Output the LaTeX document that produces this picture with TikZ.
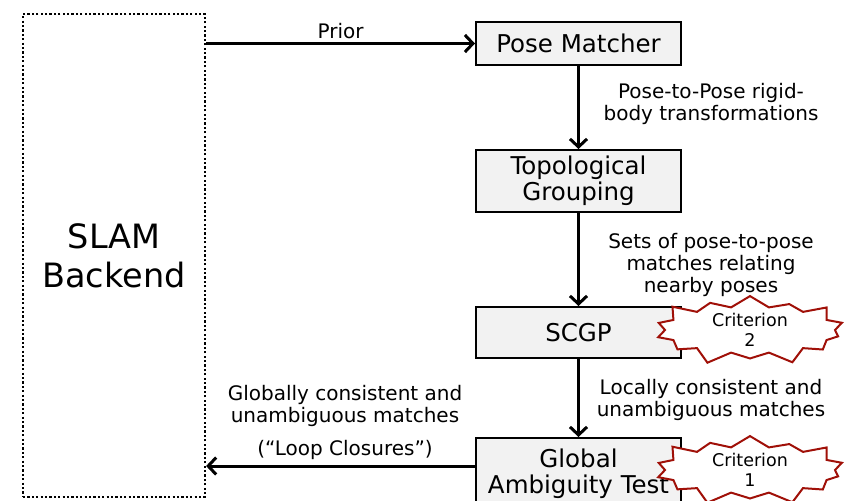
\documentclass[tikz,border=0pt]{standalone}
\usepackage{fontspec}
\setmainfont{DejaVu Sans}
\usetikzlibrary{shapes.symbols,arrows.meta}
\definecolor{starred}{RGB}{160,16,8}
\definecolor{boxgray}{RGB}{242,242,242}

\tikzset{
  stage/.style={draw, line width=2pt, fill=boxgray, minimum width=205pt,
    font=\fontsize{24.5}{26}\selectfont, align=center, inner sep=0pt},
  flow/.style={line width=3pt, -{Straight Barb[length=8pt,width=17pt]}},
  note/.style={font=\fontsize{20}{22}\selectfont, align=center},
  crit/.style={starburst, starburst points=14, starburst point height=15pt,
    draw=starred, line width=2pt, fill=white, minimum width=200pt,
    minimum height=44pt, font=\fontsize{17.5}{19.5}\selectfont, align=center,
    inner sep=0pt}
}

\begin{document}
\begin{tikzpicture}[x=1pt,y=-1pt]

    \useasboundingbox (0,0) rectangle (852,501);

    % backend
    \node[draw, line width=2.2pt, dash pattern=on 2.2pt off 2.2pt,
      minimum width=182pt, minimum height=483pt, align=center,
      font=\fontsize{33.5}{39}\selectfont] (backend) at (114,255.5) {SLAM\\Backend};

    % pipeline
    \node[stage, minimum height=43pt] (pose) at (578.5,43.5) {Pose Matcher};

    \node[stage, minimum height=62pt] (topo) at (578.5,181) {Topological\\Grouping};

    \node[stage, minimum height=51pt] (scgp) at (578.5,332.5) {SCGP};

    \node[stage, minimum height=72pt] (global) at (578.5,474) {Global\\Ambiguity Test};

    % criteria
    \node[crit] (crit2) at (750,330) {Criterion\\2};

    \node[crit] (crit1) at (750,470) {Criterion\\1};

    % connectors
    \draw[flow] (backend.east |- pose.west) -- node[note, above=0pt] {Prior} (pose.west);

    \draw[flow] (pose) -- (topo);

    \draw[flow] (topo) -- (scgp);

    \draw[flow] (scgp) -- (global);

    \draw[flow] (global.west |- 0,466) -- (backend.east |- 0,466);

    % labels
    \node[note] (rigid) at (711,104) {Pose-to-Pose rigid-\\body transformations};

    \node[note] (sets) at (711,265) {Sets of pose-to-pose\\matches relating\\nearby poses};

    \node[note] (local) at (711,400) {Locally consistent and\\unambiguous matches};

    \node[note] (globtxt) at (345,406) {Globally consistent and\\unambiguous matches};

    \node[note] (loop) at (345,450) {(“Loop Closures”)};

  \end{tikzpicture}
\end{document}
